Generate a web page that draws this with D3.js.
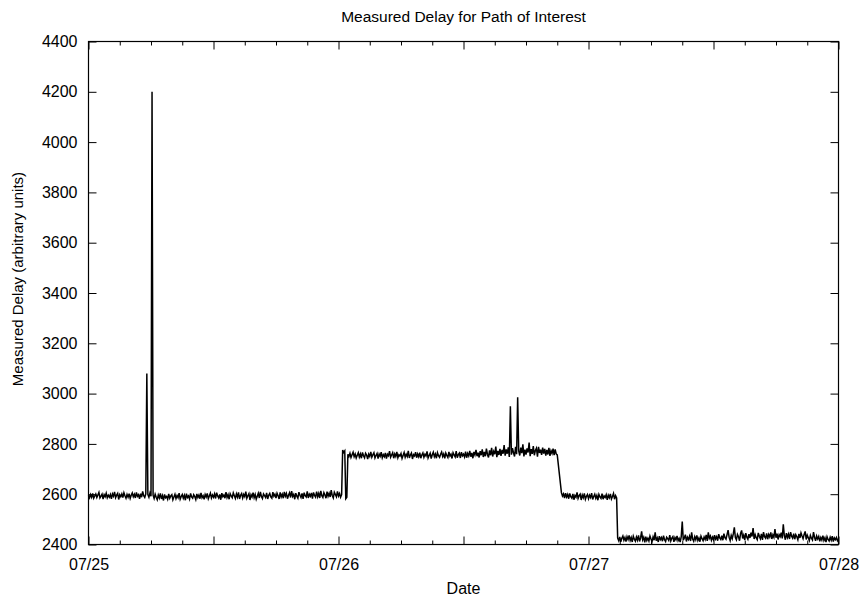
<!DOCTYPE html>
<html>
<head>
<meta charset="utf-8">
<script src="https://cdn.jsdelivr.net/npm/d3@7"></script>
<style>
  html, body { margin: 0; padding: 0; background: #fff; }
  svg { display: block; }
  text { font-family: "Liberation Sans", Arial, Helvetica, sans-serif; fill: #000; }
</style>
</head>
<body>
<svg id="chart" width="865" height="599"></svg>
<script>
// ---------------- DATA ----------------
const chartTitle = "Measured Delay for Path of Interest";
const xTitle = "Date";
const yTitle = "Measured Delay (arbitrary units)";
const dateLabels = ["07/25", "07/26", "07/27", "07/28"];   // at 0h, 24h, 48h, 72h
const hourDomain = [0, 72];
const delayDomain = [2400, 4400];
const yTickValues = [2400, 2600, 2800, 3000, 3200, 3400, 3600, 3800, 4000, 4200, 4400];
const startHour = 0;
const stepHours = 0.1;   // one sample every 6 minutes
// measured delay, null = no sample (gap)
const delay = [
  2596,2586,2599,2588,2603,2584,2593,2601,2587,2597,2607,2585,2592,2600,2581,2598,2590,2604,2586,2596,
  2588,2599,2582,2601,2592,2609,2586,2596,2603,2579,2598,2590,2601,2587,2606,2594,2584,2599,2588,2602,
  2583,2596,2605,2590,2600,2585,2607,2592,2598,2582,2602,2588,2611,2594,2587,2601,3080,2598,2588,2605,
  2592,4200,2596,2583,2600,2588,2578,2597,2585,2603,2581,2594,2575,2599,2586,2591,2580,2601,2584,2593,
  2598,2578,2589,2600,2583,2595,2586,2604,2580,2591,2599,2584,2596,2576,2602,2587,2593,2581,2603,2589,
  2584,2598,2591,2579,2601,2587,2597,2582,2605,2586,2594,2580,2599,2589,2603,2582,2593,2604,2585,2597,
  2588,2601,2583,2606,2593,2585,2599,2578,2604,2590,2597,2584,2608,2587,2598,2580,2602,2593,2586,2605,
  2594,2583,2601,2588,2607,2581,2596,2603,2585,2599,2590,2610,2584,2594,2602,2577,2598,2589,2606,2586,
  2599,2580,2592,2604,2585,2609,2591,2583,2601,2594,2587,2605,2581,2596,2603,2589,2584,2608,2592,2600,
  2585,2604,2594,2581,2607,2589,2600,2584,2609,2592,2603,2582,2596,2606,2587,2612,2591,2599,2580,2604,
  2592,2584,2608,2596,2587,2603,2581,2606,2594,2589,2611,2585,2600,2592,2605,2582,2607,2595,2588,2610,
  2590,2603,2585,2613,2594,2587,2606,2597,2584,2610,2592,2604,2589,2616,2595,2585,2608,2599,2590,2611,
  2593,2603,2588,2598,2776,2766,2772,2582,2588,2759,2750,2763,2746,2757,2767,2749,2760,2744,2755,2765,
  2748,2760,2743,2766,2753,2745,2763,2756,2740,2759,2750,2768,2747,2757,2765,2744,2754,2762,2742,2760,
  2751,2767,2745,2757,2749,2764,2742,2759,2753,2771,2747,2756,2765,2743,2760,2750,2768,2745,2757,2752,
  2762,2742,2754,2766,2747,2759,2750,2772,2744,2756,2764,2740,2757,2752,2767,2745,2760,2749,2765,2743,
  2756,2764,2747,2759,2752,2770,2744,2754,2763,2742,2757,2767,2749,2760,2743,2765,2753,2747,2759,2768,
  2750,2760,2743,2764,2754,2746,2768,2752,2759,2742,2765,2756,2748,2771,2745,2757,2763,2744,2767,2753,
  2759,2748,2769,2745,2762,2752,2772,2749,2764,2743,2768,2756,2776,2751,2765,2746,2771,2755,2778,2748,
  2768,2751,2781,2758,2746,2774,2755,2784,2750,2770,2759,2789,2747,2772,2756,2780,2752,2776,2761,2795,
  2753,2778,2761,2786,2748,2950,2757,2783,2765,2750,2788,2759,2985,2772,2754,2785,2763,2798,2750,2777,
  2757,2782,2766,2805,2751,2779,2760,2791,2755,2774,2783,2749,2788,2764,2777,2756,2785,2761,2780,2753,
  2776,2758,2784,2752,2773,2762,2781,2755,2778,2760,2756,null,null,null,2606,2593,2601,2585,2604,2589,
  2599,2582,2603,2590,2584,2601,2578,2595,2588,2607,2583,2594,2600,2577,2597,2586,2603,2580,2592,2599,
  2582,2596,2587,2604,2579,2591,2600,2584,2595,2576,2599,2589,2583,2602,2580,2593,2587,2598,2578,2596,
  2586,2601,2581,2591,2603,2580,2594,2585,2425,2415,2430,2411,2425,2434,2417,2428,2412,2431,2420,2436,
  2416,2428,2410,2433,2421,2413,2430,2417,2436,2412,2426,2452,2419,2429,2409,2431,2416,2425,2414,2434,
  2422,2411,2430,2417,2448,2415,2426,2410,2433,2420,2428,2413,2435,2419,2412,2429,2423,2416,2437,2414,
  2425,2431,2411,2428,2419,2434,2415,2424,2410,2430,2491,2417,2426,2439,2412,2429,2420,2433,2414,2448,
  2422,2413,2431,2419,2436,2416,2426,2411,2433,2423,2415,2430,2420,2438,2414,2448,2425,2434,2417,2429,
  2419,2437,2422,2431,2415,2441,2426,2420,2435,2417,2443,2427,2421,2439,2457,2429,2416,2436,2423,2442,
  2468,2428,2419,2440,2431,2415,2444,2456,2424,2437,2418,2445,2429,2421,2441,2426,2447,2432,2465,2422,
  2439,2427,2419,2446,2433,2423,2442,2418,2449,2431,2425,2444,2421,2440,2430,2448,2422,2438,2428,2461,
  2427,2443,2420,2439,2431,2447,2424,2480,2435,2419,2445,2428,2441,2422,2449,2433,2425,2443,2421,2439,
  2431,2419,2442,2426,2446,2434,2423,2440,2452,2420,2437,2427,2416,2436,2425,2418,2449,2429,2415,2434,
  2422,2432,2413,2428,2418,2435,2416,2427,2410,2431,2420,2414,2429,2417,2433,2412,2426,2419,2428,2415,
  2422
];

// ---------------- DRAWING ----------------
const svg = d3.select("#chart");
const plotLeft = 88.5, plotRight = 838.5, plotTop = 41.5, plotBottom = 544.5;

const x = d3.scaleLinear().domain(hourDomain).range([plotLeft, plotRight]);
const y = d3.scaleLinear().domain(delayDomain).range([plotBottom, plotTop]);

const minorHours = d3.range(hourDomain[0], hourDomain[1] + 0.001, 3).filter(h => h % 12 !== 0);
const majorHours = d3.range(hourDomain[0], hourDomain[1] + 0.001, 12);
const dayLabel = h => (h % 24 === 0 ? dateLabels[h / 24] : "");

function styleAxis(g) {
  g.select(".domain").remove();
  g.selectAll(".tick line").attr("stroke", "#000").attr("stroke-width", 1);
  g.selectAll(".tick text")
    .attr("font-family", '"Liberation Sans", Arial, Helvetica, sans-serif')
    .attr("font-size", 16).attr("fill", "#000");
}

// bottom axes (inward ticks)
svg.append("g").attr("transform", `translate(0,${plotBottom})`)
  .call(d3.axisBottom(x).tickValues(minorHours).tickSize(-4).tickFormat(""))
  .call(styleAxis);
svg.append("g").attr("transform", `translate(0,${plotBottom})`)
  .call(d3.axisBottom(x).tickValues(majorHours).tickSize(-8).tickPadding(14).tickFormat(dayLabel))
  .call(styleAxis);
// top mirrored
svg.append("g").attr("transform", `translate(0,${plotTop})`)
  .call(d3.axisTop(x).tickValues(minorHours).tickSize(-4).tickFormat(""))
  .call(styleAxis);
svg.append("g").attr("transform", `translate(0,${plotTop})`)
  .call(d3.axisTop(x).tickValues(majorHours).tickSize(-8).tickFormat(""))
  .call(styleAxis);
// left axis
svg.append("g").attr("transform", `translate(${plotLeft},0)`)
  .call(d3.axisLeft(y).tickValues(yTickValues).tickSize(-8).tickPadding(11).tickFormat(d3.format("d")))
  .call(styleAxis);
// right mirrored
svg.append("g").attr("transform", `translate(${plotRight},0)`)
  .call(d3.axisRight(y).tickValues(yTickValues).tickSize(-8).tickFormat(""))
  .call(styleAxis);

// data line
const points = delay
  .map((v, i) => ({ h: startHour + i * stepHours, v }))
  .filter(d => d.v !== null);

svg.append("path")
  .datum(points)
  .attr("fill", "none")
  .attr("stroke", "#000")
  .attr("stroke-width", 1.5)
  .attr("stroke-linejoin", "miter")
  .attr("d", d3.line().x(d => x(d.h)).y(d => y(d.v)));

// border
svg.append("rect")
  .attr("x", plotLeft).attr("y", plotTop)
  .attr("width", plotRight - plotLeft).attr("height", plotBottom - plotTop)
  .attr("fill", "none").attr("stroke", "#000").attr("stroke-width", 1.2);

// titles
svg.append("text")
  .attr("x", (plotLeft + plotRight) / 2).attr("y", 22)
  .attr("text-anchor", "middle").attr("font-size", 15.5)
  .text(chartTitle);
svg.append("text")
  .attr("x", (plotLeft + plotRight) / 2).attr("y", 594)
  .attr("text-anchor", "middle").attr("font-size", 16)
  .text(xTitle);
svg.append("text")
  .attr("transform", "translate(23,279) rotate(-90)")
  .attr("text-anchor", "middle").attr("font-size", 15)
  .text(yTitle);
</script>
</body>
</html>
